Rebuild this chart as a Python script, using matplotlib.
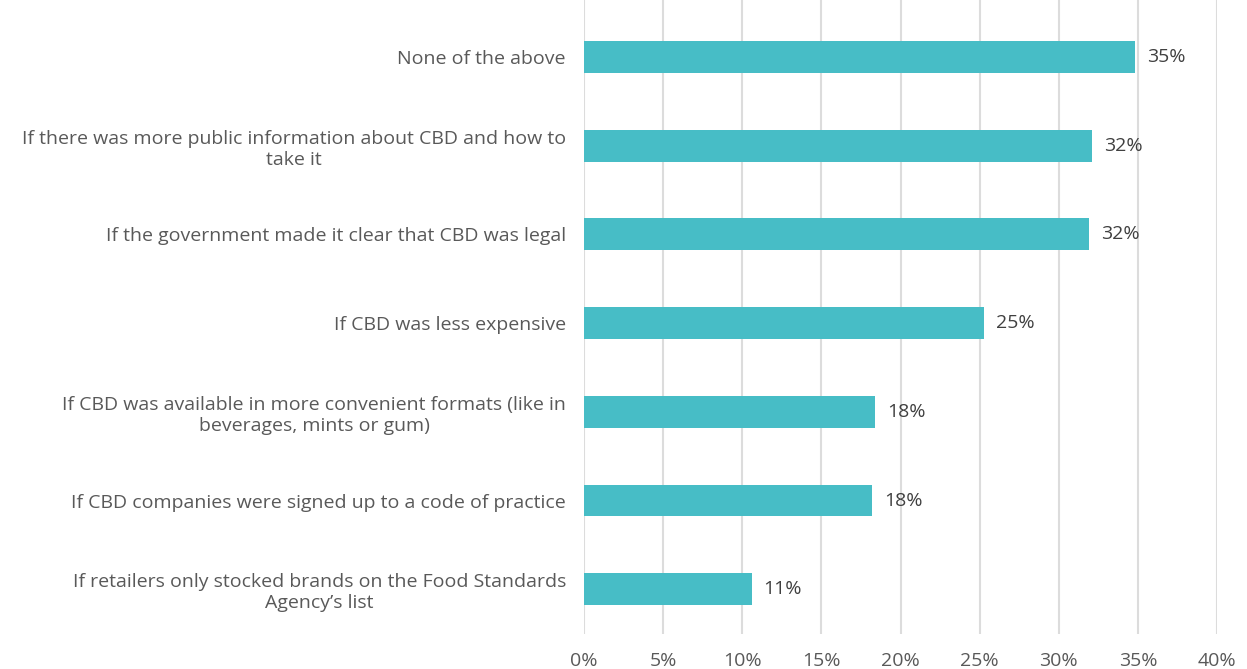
import matplotlib
matplotlib.use("Agg")
import matplotlib.pyplot as plt

categories = [
    "None of the above",
    "If there was more public information about CBD and how to\ntake it",
    "If the government made it clear that CBD was legal",
    "If CBD was less expensive",
    "If CBD was available in more convenient formats (like in\nbeverages, mints or gum)",
    "If CBD companies were signed up to a code of practice",
    "If retailers only stocked brands on the Food Standards\nAgency\u2019s list",
]
values = [34.8, 32.1, 31.9, 25.3, 18.4, 18.2, 10.6]
xticks = [0, 5, 10, 15, 20, 25, 30, 35, 40]

BAR = "#47BDC6"
GRID = "#DCDCDC"
TXT = "#595959"
VAL = "#404040"

plt.rcParams["font.family"] = ["Open Sans", "DejaVu Sans"]

fig = plt.figure(figsize=(12.47, 6.69), dpi=100)
ax = fig.add_axes([584 / 1247, 1 - 634 / 669, (1217 - 584) / 1247, 634 / 669])

pos = list(range(len(categories)))
ax.barh(pos, values, height=0.36, color=BAR, zorder=3)
for p, v in zip(pos, values):
    ax.text(v + 0.75, p, f"{round(v):.0f}%", va="center", ha="left",
            fontsize=14, color=VAL)

ax.set_xlim(0, 40)
ax.set_ylim(6.505, -0.643)
ax.set_xticks(xticks)
ax.set_xticklabels([f"{t}%" for t in xticks], fontsize=14, color=TXT)
ax.tick_params(axis="x", length=0, pad=13)
ax.set_yticks(pos)
ax.set_yticklabels(categories, fontsize=14, color=TXT,
                   multialignment="center", linespacing=1.2)
ax.tick_params(axis="y", length=0, pad=13)
ax.grid(axis="x", color=GRID, linewidth=1.5, zorder=0)
for s in ax.spines.values():
    s.set_visible(False)

fig.savefig("out.png", dpi=100)
